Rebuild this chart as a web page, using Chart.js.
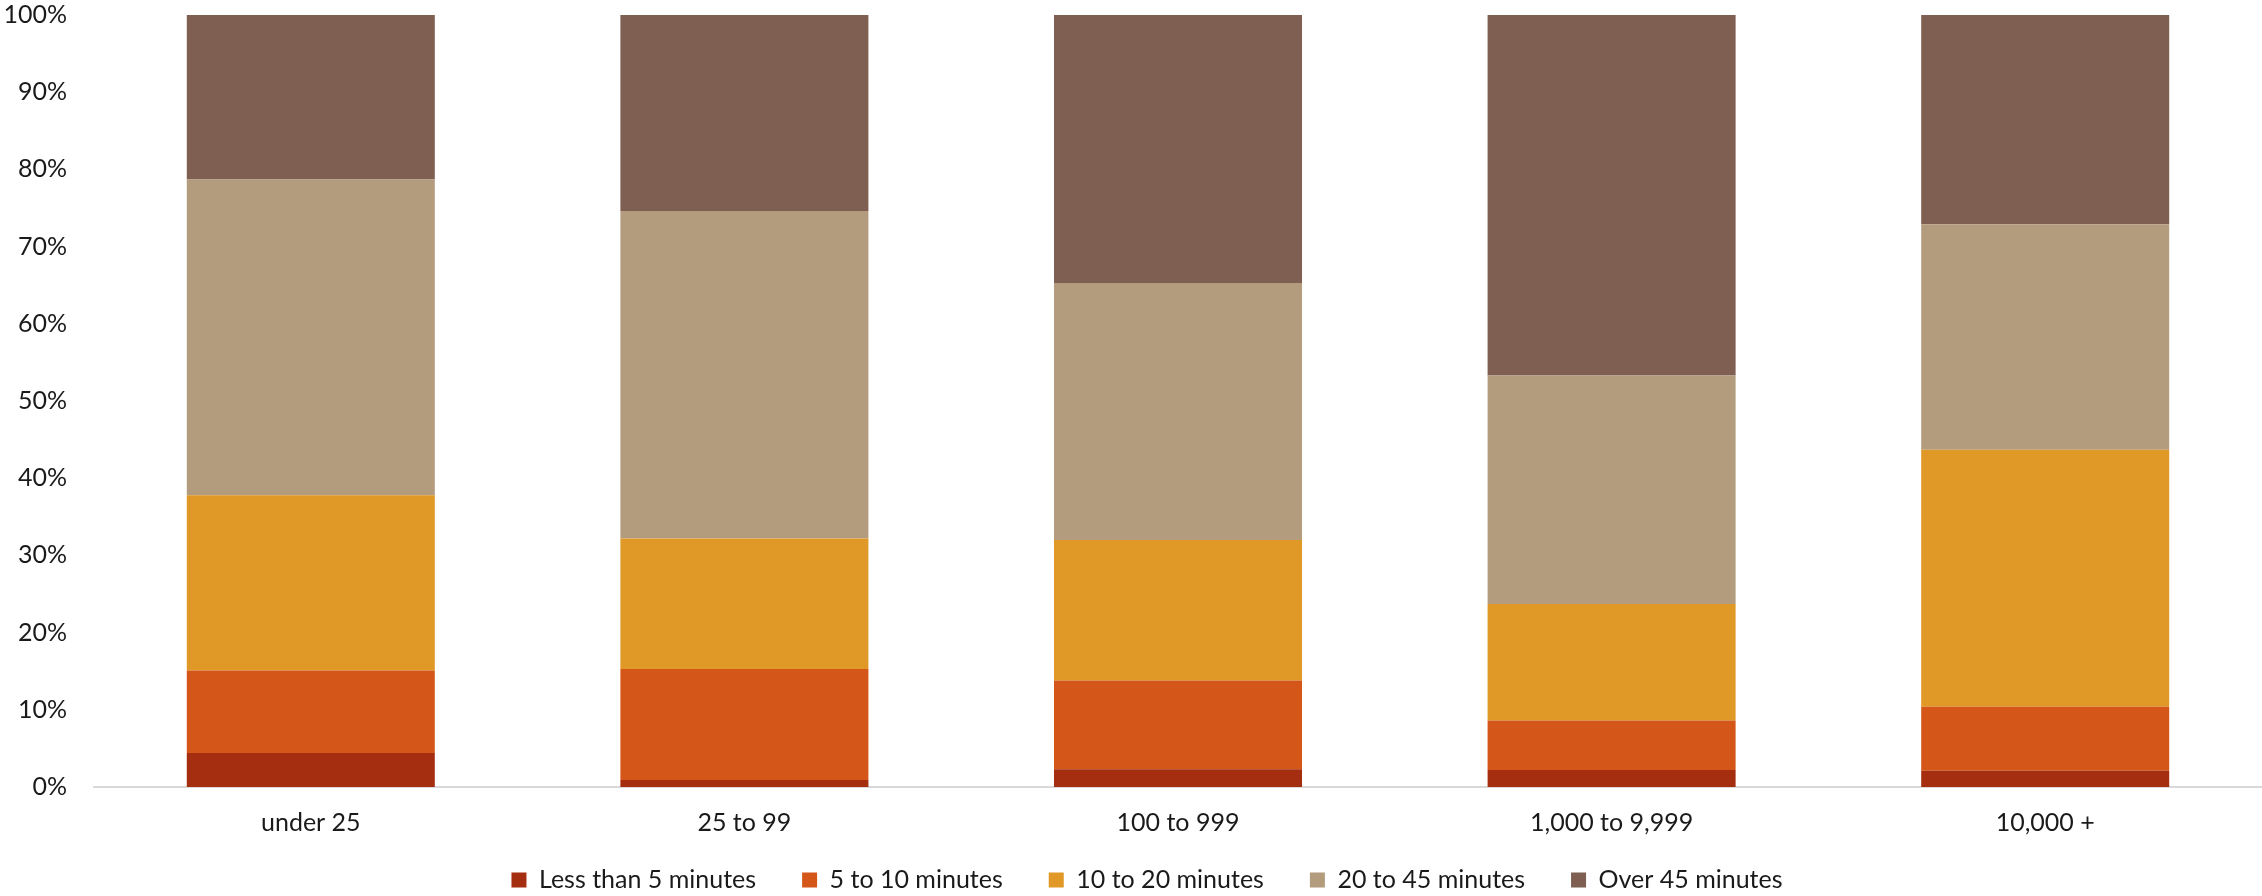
<!DOCTYPE html>
<html>
<head>
<meta charset="utf-8">
<script src="https://cdn.jsdelivr.net/npm/chart.js@4.4.1/dist/chart.umd.min.js"></script>
<style>
  html, body { margin: 0; padding: 0; background: #ffffff; }
  #wrap { width: 2262px; height: 896px; position: relative; }
</style>
</head>
<body>
<div id="wrap"><canvas id="c" width="2262" height="896"></canvas></div>
<script>
const categories = ["under 25", "25 to 99", "100 to 999", "1,000 to 9,999", "10,000 +"];
const seriesNames = ["Less than 5 minutes", "5 to 10 minutes", "10 to 20 minutes", "20 to 45 minutes", "Over 45 minutes"];
const lessThan5 = [4.4, 0.9, 2.3, 2.2, 2.1];
const fiveTo10 = [10.7, 14.4, 11.5, 6.4, 8.3];
const tenTo20 = [22.7, 16.9, 18.2, 15.1, 33.3];
const twentyTo45 = [40.9, 42.4, 33.3, 29.6, 29.2];
const over45 = [21.3, 25.4, 34.7, 46.7, 27.1];
const yTicks = [0, 10, 20, 30, 40, 50, 60, 70, 80, 90, 100];

const colors = ["#A52E10", "#D45719", "#E09926", "#B39C7D", "#7F5F52"];
const seriesValues = [lessThan5, fiveTo10, tenTo20, twentyTo45, over45];

const FONT = "Lato, 'Open Sans', sans-serif";
const TEXT = "#1a1a1a";

const datasets = seriesNames.map((name, i) => ({
  label: name,
  data: seriesValues[i],
  backgroundColor: colors[i],
  borderWidth: 0,
  barPercentage: 0.572,
  categoryPercentage: 1.0
}));

const legendPlace = {
  id: "legendPlace",
  afterLayout(chart) {
    const lg = chart.legend;
    if (!lg) return;
    const h = lg.bottom - lg.top;
    lg.left += 16; lg.right += 16;
    lg.top = 821.5; lg.bottom = lg.top + h;
  }
};

new Chart(document.getElementById("c"), {
  type: "bar",
  data: { labels: categories, datasets },
  plugins: [legendPlace],
  options: {
    responsive: false,
    animation: false,
    devicePixelRatio: 1,
    layout: { padding: { left: 0, right: 0, top: 15, bottom: -40 } },
    plugins: {
      tooltip: { enabled: false },
      legend: {
        position: "bottom",
        align: "center",
        labels: {
          boxWidth: 15,
          boxHeight: 15,
          padding: 46,
          color: TEXT,
          font: { family: FONT, size: 25 }
        }
      }
    },
    scales: {
      x: {
        stacked: true,
        grid: { display: false, drawTicks: false },
        border: { display: true, color: "#d9d9d9", width: 2 },
        ticks: { color: TEXT, font: { family: FONT, size: 25 }, padding: 21 },
        afterFit: (s) => { s.height = 68; s.paddingLeft = 0; s.paddingRight = 0; }
      },
      y: {
        stacked: true,
        min: 0,
        max: 100,
        afterBuildTicks: (s) => { s.ticks = yTicks.map(v => ({ value: v })); },
        grid: { display: false, drawTicks: false },
        border: { display: false },
        ticks: {
          color: TEXT,
          font: { family: FONT, size: 25 },
          padding: 27,
          callback: (v) => v + "%"
        },
        afterFit: (s) => { s.width = 94; s.paddingTop = 0; s.paddingBottom = 0; }
      }
    }
  }
});
</script>
</body>
</html>
